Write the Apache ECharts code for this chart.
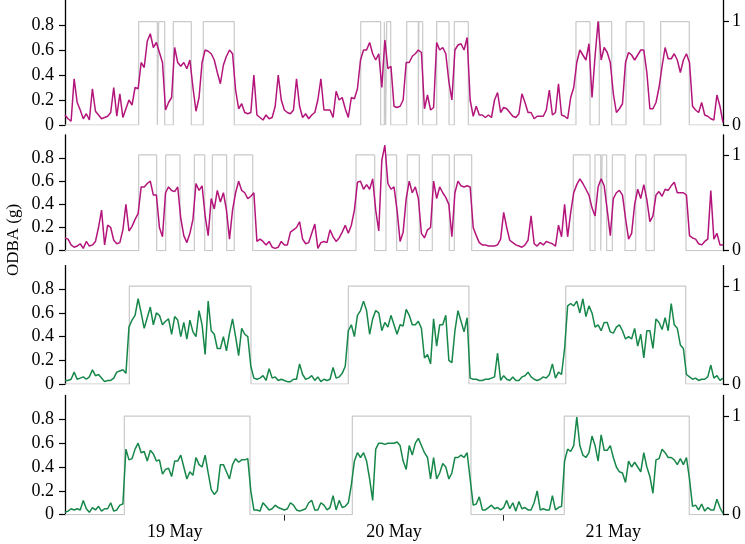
<!DOCTYPE html>
<html>
<head>
<meta charset="utf-8">
<script src="https://cdn.jsdelivr.net/npm/echarts@6/dist/echarts.min.js"></script>
<style>
html,body{margin:0;padding:0;background:#fff;}
#chart{width:745px;height:544px;}
</style>
</head>
<body>
<div id="chart"></div>
<script>
// ---- DATA ----
// ODBA samples every 20 minutes from 19 May 00:00 (hours on x axis)
const SAMPLE_HOURS = 1 / 3;

const odba1 = [
 0.08,0.05,0.03,0.37,0.18,0.12,0.05,0.09,0.04,0.29,
 0.11,0.08,0.05,0.06,0.07,0.1,0.3,0.07,0.25,0.06,
 0.13,0.2,0.16,0.3,0.29,0.5,0.46,0.67,0.73,0.62,
 0.66,0.58,0.5,0.12,0.18,0.22,0.62,0.5,0.47,0.5,
 0.45,0.52,0.3,0.11,0.22,0.5,0.6,0.59,0.57,0.52,
 0.42,0.33,0.48,0.55,0.6,0.57,0.28,0.13,0.17,0.1,
 0.09,0.1,0.4,0.08,0.06,0.04,0.08,0.05,0.06,0.15,
 0.4,0.2,0.12,0.1,0.09,0.12,0.37,0.15,0.06,0.09,
 0.05,0.08,0.1,0.2,0.37,0.12,0.12,0.12,0.06,0.27,
 0.2,0.22,0.13,0.06,0.22,0.21,0.29,0.52,0.6,0.6,
 0.66,0.57,0.52,0.57,0.3,0.68,0.45,0.47,0.15,0.14,
 0.15,0.2,0.5,0.5,0.55,0.57,0.6,0.58,0.13,0.24,
 0.12,0.14,0.66,0.6,0.62,0.57,0.35,0.2,0.6,0.64,
 0.65,0.6,0.7,0.2,0.07,0.15,0.08,0.08,0.06,0.08,
 0.06,0.2,0.26,0.1,0.14,0.13,0.1,0.07,0.06,0.09,
 0.25,0.18,0.1,0.1,0.05,0.07,0.07,0.07,0.12,0.28,
 0.08,0.1,0.33,0.08,0.07,0.05,0.22,0.3,0.5,0.6,
 0.56,0.52,0.65,0.22,0.55,0.83,0.52,0.62,0.58,0.5,
 0.25,0.1,0.13,0.17,0.5,0.58,0.56,0.52,0.56,0.6,
 0.6,0.42,0.13,0.13,0.18,0.3,0.47,0.62,0.53,0.53,
 0.57,0.52,0.42,0.52,0.57,0.5,0.15,0.12,0.1,0.18,
 0.08,0.07,0.05,0.04,0.24,0.15,0.02
];
const odba2 = [
 0.11,0.1,0.05,0.03,0.04,0.06,0.02,0.08,0.04,0.05,
 0.08,0.2,0.35,0.05,0.22,0.2,0.09,0.06,0.07,0.18,
 0.4,0.17,0.21,0.27,0.32,0.55,0.55,0.58,0.6,0.48,
 0.48,0.2,0.12,0.5,0.55,0.52,0.51,0.55,0.28,0.13,
 0.07,0.15,0.27,0.58,0.52,0.56,0.3,0.13,0.45,0.36,
 0.52,0.42,0.5,0.35,0.1,0.35,0.5,0.6,0.52,0.5,
 0.45,0.47,0.5,0.08,0.1,0.08,0.05,0.08,0.03,0.02,
 0.03,0.08,0.05,0.05,0.16,0.18,0.2,0.25,0.1,0.06,
 0.07,0.15,0.23,0.02,0.07,0.08,0.07,0.18,0.12,0.08,
 0.11,0.16,0.22,0.15,0.22,0.35,0.59,0.6,0.53,0.57,
 0.53,0.62,0.35,0.17,0.78,0.91,0.58,0.53,0.55,0.35,
 0.08,0.16,0.45,0.6,0.5,0.55,0.45,0.15,0.11,0.18,
 0.2,0.6,0.45,0.55,0.5,0.46,0.4,0.12,0.5,0.6,
 0.56,0.55,0.56,0.55,0.2,0.13,0.07,0.05,0.05,0.04,
 0.04,0.04,0.05,0.1,0.33,0.2,0.09,0.07,0.05,0.04,
 0.03,0.05,0.09,0.3,0.06,0.04,0.07,0.05,0.08,0.07,
 0.06,0.04,0.22,0.12,0.4,0.12,0.33,0.5,0.57,0.62,
 0.58,0.53,0.48,0.37,0.3,0.55,0.62,0.56,0.35,0.13,
 0.45,0.5,0.52,0.48,0.28,0.1,0.15,0.4,0.53,0.45,
 0.57,0.44,0.25,0.3,0.48,0.51,0.47,0.53,0.52,0.56,
 0.59,0.5,0.5,0.5,0.48,0.13,0.11,0.1,0.06,0.05,
 0.08,0.1,0.52,0.1,0.15,0.05,0.05
];
const odba3 = [
 0.03,0.03,0.04,0.1,0.04,0.05,0.06,0.04,0.06,0.12,
 0.07,0.08,0.05,0.02,0.03,0.03,0.05,0.1,0.11,0.12,
 0.09,0.48,0.54,0.58,0.72,0.6,0.47,0.56,0.65,0.5,
 0.6,0.58,0.5,0.53,0.55,0.42,0.57,0.54,0.4,0.52,
 0.38,0.54,0.44,0.4,0.62,0.5,0.25,0.7,0.45,0.42,
 0.3,0.3,0.4,0.28,0.43,0.55,0.4,0.24,0.47,0.42,
 0.4,0.15,0.05,0.04,0.05,0.07,0.03,0.13,0.05,0.06,
 0.03,0.04,0.03,0.02,0.02,0.04,0.04,0.17,0.08,0.04,
 0.05,0.07,0.03,0.06,0.02,0.04,0.03,0.04,0.14,0.05,
 0.06,0.09,0.15,0.45,0.5,0.4,0.58,0.62,0.7,0.62,
 0.42,0.55,0.62,0.6,0.45,0.52,0.48,0.58,0.5,0.42,
 0.5,0.49,0.63,0.58,0.5,0.5,0.53,0.47,0.22,0.25,
 0.17,0.55,0.32,0.5,0.5,0.58,0.2,0.18,0.45,0.62,
 0.53,0.44,0.56,0.05,0.04,0.04,0.03,0.03,0.04,0.04,
 0.05,0.06,0.26,0.03,0.07,0.04,0.03,0.06,0.03,0.03,
 0.06,0.07,0.1,0.06,0.04,0.03,0.04,0.06,0.05,0.08,
 0.17,0.05,0.1,0.08,0.3,0.66,0.68,0.66,0.7,0.6,
 0.72,0.57,0.66,0.6,0.48,0.5,0.45,0.52,0.52,0.44,
 0.43,0.48,0.5,0.45,0.38,0.4,0.38,0.47,0.32,0.42,
 0.22,0.45,0.45,0.3,0.55,0.52,0.46,0.56,0.45,0.68,
 0.5,0.47,0.33,0.3,0.08,0.06,0.04,0.05,0.03,0.04,
 0.04,0.06,0.16,0.05,0.07,0.03,0.05
];
const odba4 = [
 0.02,0.03,0.05,0.04,0.05,0.04,0.12,0.05,0.02,0.06,
 0.04,0.07,0.03,0.05,0.05,0.1,0.03,0.04,0.08,0.09,
 0.55,0.46,0.47,0.55,0.6,0.52,0.53,0.45,0.54,0.51,
 0.45,0.46,0.34,0.38,0.39,0.32,0.45,0.45,0.5,0.4,
 0.3,0.36,0.33,0.48,0.42,0.4,0.5,0.35,0.21,0.17,
 0.2,0.42,0.42,0.36,0.3,0.42,0.47,0.44,0.46,0.46,
 0.47,0.2,0.04,0.04,0.03,0.1,0.07,0.04,0.05,0.08,
 0.06,0.05,0.04,0.05,0.1,0.08,0.04,0.03,0.04,0.05,
 0.1,0.12,0.04,0.04,0.1,0.08,0.04,0.06,0.16,0.04,
 0.12,0.06,0.07,0.1,0.25,0.45,0.52,0.48,0.52,0.45,
 0.3,0.12,0.55,0.6,0.6,0.59,0.6,0.6,0.6,0.61,
 0.58,0.45,0.38,0.58,0.5,0.6,0.64,0.58,0.52,0.48,
 0.3,0.48,0.3,0.35,0.43,0.4,0.3,0.35,0.48,0.48,
 0.5,0.48,0.52,0.3,0.08,0.09,0.15,0.04,0.04,0.06,
 0.08,0.05,0.06,0.04,0.06,0.12,0.05,0.1,0.03,0.11,
 0.05,0.06,0.04,0.04,0.1,0.2,0.04,0.05,0.04,0.04,
 0.16,0.04,0.06,0.07,0.45,0.55,0.53,0.58,0.82,0.58,
 0.5,0.48,0.52,0.66,0.58,0.45,0.67,0.54,0.54,0.58,
 0.48,0.4,0.36,0.35,0.27,0.45,0.4,0.44,0.4,0.36,
 0.52,0.4,0.32,0.18,0.46,0.47,0.55,0.52,0.48,0.48,
 0.46,0.42,0.47,0.42,0.48,0.3,0.07,0.08,0.04,0.09,
 0.03,0.06,0.04,0.04,0.13,0.06,0.01
];

// Activity bouts (state = 1) as [start hour, end hour]
const bouts1 = [[8.06,10.10],[10.25,10.91],[11.85,13.82],[15.13,18.52],
  [32.36,34.54],[34.94,35.09],[35.20,35.64],[37.39,38.66],[38.72,39.14],[40.67,42.02],[42.60,44.13],
  [55.91,57.45],[58.46,59.82],[61.39,63.35],[65.18,68.31]];
const bouts2 = [[8.06,10.03],[11.02,12.58],[14.15,15.29],[16.12,17.69],[18.52,20.54],
  [31.84,33.89],[35.12,36.29],[37.45,38.77],[40.19,42.05],[42.60,44.50],
  [55.62,57.45],[57.99,58.62],[58.78,59.27],[59.89,61.28],[62.45,63.57],[64.48,67.95]];
const bouts3 = [[7.04,20.35],[31.00,44.20],[54.79,67.92]];
const bouts4 = [[6.49,20.24],[31.44,44.42],[54.63,68.31]];

const dayTickHours = [24, 48];
const dayLabelHours = [12, 36, 60];
const dayLabels = ['19 May', '20 May', '21 May'];
const leftTicks = [0, 0.2, 0.4, 0.6, 0.8];
const rightTicks = [0, 1];
const yTitle = 'ODBA (g)';

// ---- CHART ----
const FONT = 'Liberation Serif';
const MAGENTA = '#b3157b';
const GREEN = '#168749';
const panels = [
  {top: 0,     height: 125,   vals: odba1, bouts: bouts1, color: MAGENTA},
  {top: 134.8, height: 115.9, vals: odba2, bouts: bouts2, color: MAGENTA},
  {top: 265.6, height: 118.4, vals: odba3, bouts: bouts3, color: GREEN},
  {top: 395.5, height: 119.2, vals: odba4, bouts: bouts4, color: GREEN}
];

function toPoints(vals) { return vals.map((v, i) => [i * SAMPLE_HOURS, v]); }
function boutSteps(bouts) {
  const d = [[0, 0]];
  bouts.forEach(([a, b]) => { d.push([a, 0], [a, 1], [b, 1], [b, 0]); });
  d.push([72, 0]);
  return d;
}

const grids = [], xAxes = [], yAxes = [], series = [];
panels.forEach((p, k) => {
  grids.push({left: 65, width: 658, top: p.top, height: p.height});
  const last = k === panels.length - 1;
  xAxes.push({
    gridIndex: k, type: 'value', min: 0, max: 72,
    axisLine: {show: false},
    axisTick: last ? {show: true, customValues: dayTickHours, length: 6, lineStyle: {color: '#222', width: 1}} : {show: false},
    axisLabel: last ? {show: true, customValues: dayLabelHours, margin: 9,
      formatter: v => dayLabels[dayLabelHours.indexOf(v)] || '',
      fontFamily: FONT, fontSize: 18, color: '#000'} : {show: false},
    splitLine: {show: false}
  });
  yAxes.push({
    gridIndex: k, type: 'value', min: 0, max: 1, position: 'left',
    axisLine: {show: true, lineStyle: {color: '#000', width: 1.3}},
    axisTick: {show: true, inside: false, length: 6, customValues: leftTicks, lineStyle: {color: '#000', width: 1.2}},
    axisLabel: {customValues: leftTicks, margin: 11, fontFamily: FONT, fontSize: 18, color: '#000'},
    splitLine: {show: false}
  });
  yAxes.push({
    gridIndex: k, type: 'value', min: 0, max: 1.21, position: 'right',
    axisLine: {show: true, lineStyle: {color: '#000', width: 1.3}},
    axisTick: {show: true, inside: false, length: 6, customValues: rightTicks, lineStyle: {color: '#000', width: 1.2}},
    axisLabel: {customValues: rightTicks, margin: 9, fontFamily: FONT, fontSize: 18, color: '#000'},
    splitLine: {show: false}
  });
  series.push({
    type: 'line', xAxisIndex: k, yAxisIndex: 2 * k + 1,
    data: boutSteps(p.bouts), symbol: 'none', silent: true, z: 1,
    lineStyle: {color: '#c9c9c9', width: 1.2}
  });
  series.push({
    type: 'line', xAxisIndex: k, yAxisIndex: 2 * k,
    data: toPoints(p.vals), symbol: 'none', z: 3,
    lineStyle: {color: p.color, width: 1.5}
  });
});

const chart = echarts.init(document.getElementById('chart'), null, {renderer: 'canvas'});
chart.setOption({
  animation: false,
  backgroundColor: '#fff',
  grid: grids, xAxis: xAxes, yAxis: yAxes, series: series,
  graphic: [{
    type: 'text', x: 14, y: 240, rotation: Math.PI / 2,
    style: {text: yTitle, fontFamily: FONT, fontSize: 17, fill: '#000', textAlign: 'center', textVerticalAlign: 'middle'}
  }]
});
</script>
</body>
</html>
